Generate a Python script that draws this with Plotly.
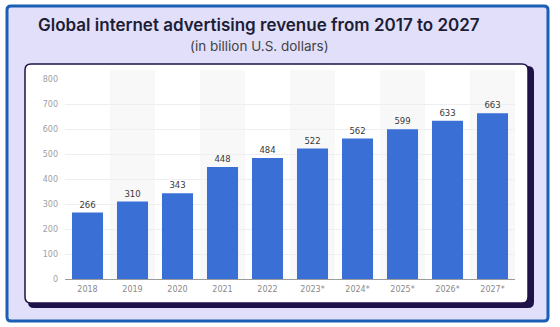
import plotly.graph_objects as go

years = ["2018", "2019", "2020", "2021", "2022", "2023*", "2024*", "2025*", "2026*", "2027*"]
revenue = [266, 310, 343, 448, 484, 522, 562, 599, 633, 663]
y_ticks = [0, 100, 200, 300, 400, 500, 600, 700, 800]

title_text = "Global internet advertising revenue from 2017 to 2027"
subtitle_text = "(in billion U.S. dollars)"

W, H = 560, 327
L, R, T, B = 65, 45, 79, 48
PW, PH = W - L - R, H - T - B


def px_x(p):
    return (p - L) / PW


def px_y(p):
    return (H - B - p) / PH


def rrect(x0, y0, x1, y1, r):
    pts = [
        ("M", [(x0 + r, y0)]),
        ("L", [(x1 - r, y0)]),
        ("Q", [(x1, y0), (x1, y0 + r)]),
        ("L", [(x1, y1 - r)]),
        ("Q", [(x1, y1), (x1 - r, y1)]),
        ("L", [(x0 + r, y1)]),
        ("Q", [(x0, y1), (x0, y1 - r)]),
        ("L", [(x0, y0 + r)]),
        ("Q", [(x0, y0), (x0 + r, y0)]),
    ]
    s = ""
    for cmd, ps in pts:
        s += cmd + " " + " ".join(f"{px_x(a):.5f},{px_y(b):.5f}" for a, b in ps) + " "
    return s + "Z"


shapes = [
    dict(type="path", xref="paper", yref="paper", path=rrect(7, 6, 548, 321, 4),
         fillcolor="#e1dffa", line=dict(color="#1b5fb4", width=3), layer="below"),
    dict(type="path", xref="paper", yref="paper", path=rrect(28, 66, 534, 308, 6),
         fillcolor="#1f1248", line=dict(width=0), layer="below"),
    dict(type="path", xref="paper", yref="paper", path=rrect(25, 64, 528, 303, 6),
         fillcolor="#ffffff", line=dict(color="#1f1248", width=1.5), layer="below"),
]
for i in range(1, len(years), 2):
    shapes.append(dict(type="rect", xref="x", yref="paper", x0=i - 0.5, x1=i + 0.5,
                       y0=0, y1=px_y(70), fillcolor="#f8f8f8", line=dict(width=0),
                       layer="below"))

fig = go.Figure(go.Bar(
    x=years, y=revenue, width=0.69,
    marker=dict(color="#3a70d6", line=dict(width=0)),
    text=[str(v) for v in revenue], textposition="outside",
    textfont=dict(size=8.5, color="#3a3a3a", family="DejaVu Sans"),
    cliponaxis=False, hoverinfo="skip",
))

fig.update_layout(
    width=W, height=H,
    margin=dict(l=L, r=R, t=T, b=B, pad=0),
    paper_bgcolor="#ffffff", plot_bgcolor="rgba(0,0,0,0)",
    shapes=shapes, showlegend=False, bargap=0.31,
    annotations=[
        dict(text=title_text, xref="paper", yref="paper", x=px_x(259), y=px_y(25),
             xanchor="center", yanchor="middle", showarrow=False,
             font=dict(family="Inter", size=17, weight=600, color="#1d1d35")),
        dict(text=subtitle_text, xref="paper", yref="paper", x=px_x(259), y=px_y(46),
             xanchor="center", yanchor="middle", showarrow=False,
             font=dict(family="Inter", size=13.5, color="#444444")),
    ],
)
fig.update_yaxes(range=[0, 800], tickvals=y_ticks, showgrid=True, gridcolor="#efefef",
                 gridwidth=1, zeroline=False, showline=False, ticks="",
                 tickfont=dict(size=8, color="#a0a0a0", family="DejaVu Sans"),
                 ticklabelstandoff=6, fixedrange=True)
fig.update_xaxes(showline=True, linecolor="#9c9c9c", linewidth=1, ticks="",
                 showgrid=False, tickfont=dict(size=8, color="#8a8a8a", family="DejaVu Sans"),
                 ticklabelstandoff=2, fixedrange=True)

fig.write_html("out.html")
